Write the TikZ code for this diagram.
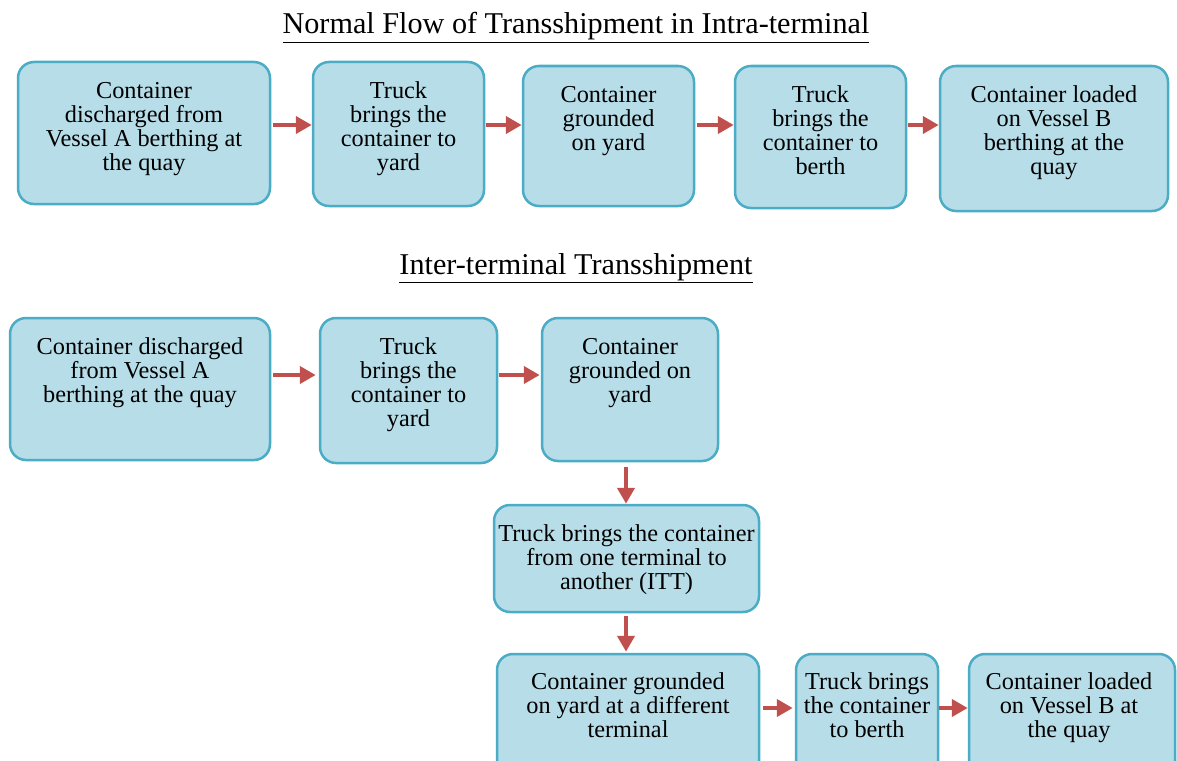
\documentclass[tikz,border=0pt]{standalone}
\usepackage{fontspec}
\setmainfont{Liberation Serif}
\usetikzlibrary{arrows.meta}
\definecolor{boxfill}{HTML}{B7DDE8}
\definecolor{boxline}{HTML}{4BACC6}
\definecolor{arrowred}{HTML}{C0504D}
\begin{document}
\begin{tikzpicture}[x=1pt,y=-1pt,
  stepbox/.style={draw=boxline, fill=boxfill, line width=2.5pt, rounded corners=16pt, inner sep=0pt},
  boxtext/.style={anchor=north, inner sep=0pt, align=center, font=\fontsize{24.3}{24}\selectfont},
  flow/.style={draw=arrowred, line width=4pt, -{Triangle[length=16pt,width=17pt]}},
  heading/.style={anchor=base, inner sep=0pt, font=\fontsize{30.2}{34}\selectfont}]
\useasboundingbox (0,0) rectangle (1177,760);
\clip (0,0) rectangle (1177,760);

% ---------- intra-terminal flow ----------
\node[heading] (t1) at (576,34) {\underline{Normal Flow of Transshipment in Intra-terminal}};

\node[stepbox, minimum width=252pt, minimum height=142pt] (a1) at (144,133) {};
\node[stepbox, minimum width=171pt, minimum height=144pt] (a2) at (398.5,134) {};
\node[stepbox, minimum width=171pt, minimum height=140pt] (a3) at (608.5,136) {};
\node[stepbox, minimum width=171pt, minimum height=142pt] (a4) at (820.5,137) {};
\node[stepbox, minimum width=228pt, minimum height=145pt] (a5) at (1054,138.5) {};

\node[boxtext] (a1t) at ([yshift=-21pt]a1.north) {\rule{0pt}{17pt}Container\\discharged from\\Vessel A berthing at\\the quay};
\node[boxtext] (a2t) at ([yshift=-21pt]a2.north) {\rule{0pt}{17pt}Truck\\brings the\\container to\\yard};
\node[boxtext] (a3t) at ([yshift=-21pt]a3.north) {\rule{0pt}{17pt}Container\\grounded\\on yard};
\node[boxtext] (a4t) at ([yshift=-21pt]a4.north) {\rule{0pt}{17pt}Truck\\brings the\\container to\\berth};
\node[boxtext] (a5t) at ([yshift=-21pt]a5.north) {\rule{0pt}{17pt}Container loaded\\on Vessel B\\berthing at the\\quay};

\draw[flow, shorten <=2pt] (a1.east |- 0,125) -- (a2.west |- 0,125);
\draw[flow, shorten <=1pt] (a2.east |- 0,125) -- (a3.west |- 0,125);
\draw[flow, shorten <=2pt] (a3.east |- 0,125) -- (a4.west |- 0,125);
\draw[flow, shorten <=1pt] (a4.east |- 0,125) -- (a5.west |- 0,125);

% ---------- inter-terminal flow ----------
\node[heading] (t2) at (576,274) {\underline{Inter-terminal Transshipment}};

\node[stepbox, minimum width=260pt, minimum height=142pt] (b1) at (140,389) {};
\node[stepbox, minimum width=177pt, minimum height=145pt] (b2) at (408.5,390.5) {};
\node[stepbox, minimum width=176pt, minimum height=143pt] (b3) at (630,389.5) {};
\node[stepbox, minimum width=265pt, minimum height=107pt] (b4) at (626.5,558.5) {};
\node[stepbox, minimum width=262pt, minimum height=145pt] (b5) at (628,726.5) {};
\node[stepbox, minimum width=142pt, minimum height=145pt] (b6) at (867,726.5) {};
\node[stepbox, minimum width=206pt, minimum height=145pt] (b7) at (1072,726.5) {};

\node[boxtext] (b1t) at ([yshift=-21pt]b1.north) {\rule{0pt}{17pt}Container discharged\\from Vessel A\\berthing at the quay};
\node[boxtext] (b2t) at ([yshift=-21pt]b2.north) {\rule{0pt}{17pt}Truck\\brings the\\container to\\yard};
\node[boxtext] (b3t) at ([yshift=-21pt]b3.north) {\rule{0pt}{17pt}Container\\grounded on\\yard};
\node[boxtext] (b4t) at ([yshift=-21pt]b4.north) {\rule{0pt}{17pt}Truck brings the container\\from one terminal to\\another (ITT)};
\node[boxtext] (b5t) at ([yshift=-20pt]b5.north) {\rule{0pt}{17pt}Container grounded\\on yard at a different\\terminal};
\node[boxtext] (b6t) at ([yshift=-20pt]b6.north) {\rule{0pt}{17pt}Truck brings\\the container\\to berth};
\node[boxtext] (b7t) at ([yshift=-20pt,xshift=-3pt]b7.north) {\rule{0pt}{17pt}Container loaded\\on Vessel B at\\the quay};

\draw[flow, shorten <=2pt, shorten >=3pt] (b1.east |- 0,375) -- (b2.west |- 0,375);
\draw[flow, shorten <=1pt, shorten >=1pt] (b2.east |- 0,375) -- (b3.west |- 0,375);
\draw[flow, shorten <=5pt] (b3.south -| 626,0) -- (b4.north -| 626,0);
\draw[flow, shorten <=3pt, shorten >=1pt] (b4.south -| 626,0) -- (b5.north -| 626,0);
\draw[flow, shorten <=3pt, shorten >=2pt] (b5.east |- 0,708) -- (b6.west |- 0,708);
\draw[flow] (b6.east |- 0,708) -- (b7.west |- 0,708);
\end{tikzpicture}
\end{document}
